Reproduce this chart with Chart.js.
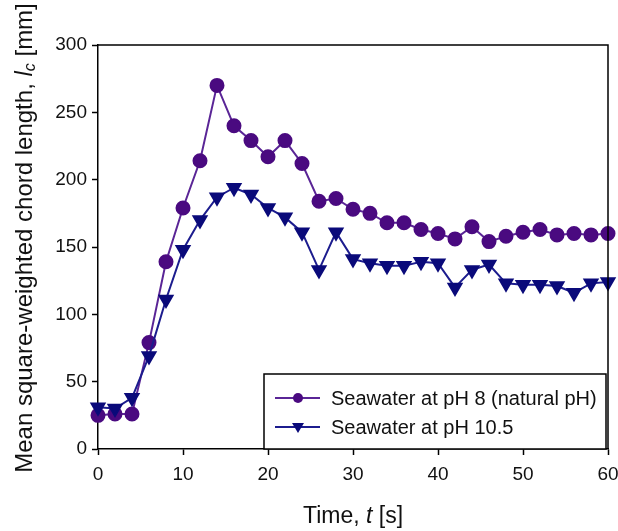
<!DOCTYPE html>
<html>
<head>
<meta charset="utf-8">
<script src="https://cdn.jsdelivr.net/npm/chart.js@4"></script>
<style>
  html, body { margin: 0; padding: 0; background: #fff; }
  #wrap { width: 618px; height: 531px; position: relative; }
</style>
</head>
<body>
<div id="wrap"><canvas id="lineChart" width="618" height="531"></canvas></div>
<script>
// time axis [s]
const times = [0, 2, 4, 6, 8, 10, 12, 14, 16, 18, 20, 22, 24, 26, 28, 30, 32, 34, 36, 38, 40, 42, 44, 46, 48, 50, 52, 54, 56, 58, 60];
// mean square-weighted chord length [mm]
const ph8 = [25, 26, 26, 79, 139, 179, 214, 270, 240, 229, 217, 229, 212, 184, 186, 178, 175, 168, 168, 163, 160, 156, 165, 154, 158, 161, 163, 159, 160, 159, 160];
const ph105 = [31, 30, 38, 69, 111, 148, 170, 187, 194, 189, 179, 172, 161, 133, 161, 141, 138, 136, 136, 139, 138, 120, 133, 137, 123, 122, 122, 121, 116, 123, 124];
const seriesLabels = ["Seawater at pH 8 (natural pH)", "Seawater at pH 10.5"];
const xTicks = [0, 10, 20, 30, 40, 50, 60];
const yTicks = [0, 50, 100, 150, 200, 250, 300];

const purple = "#4a0a80";
const purpleLine = "#5a2596";
const navy = "#0a0a7a";
const navyLine = "#1c1c8e";
const FONT = "'Liberation Sans', Arial, sans-serif";

const toXY = (vals) => vals.map((v, i) => ({ x: times[i], y: v }));

// frame, legend box and axis titles (titles need italic parts)
const extras = {
  id: "extras",
  afterDraw(chart) {
    const { ctx, chartArea: a } = chart;
    ctx.save();
    ctx.strokeStyle = "#000";
    ctx.lineWidth = 1.5;
    ctx.beginPath();
    ctx.moveTo(a.left, a.top);
    ctx.lineTo(a.right, a.top);
    ctx.lineTo(a.right, a.bottom);
    ctx.stroke();

    // legend
    const lx = 264, ly = 374, lw = 342, lh = 75;
    ctx.fillStyle = "#fff";
    ctx.fillRect(lx, ly, lw, lh);
    ctx.strokeRect(lx, ly, lw, lh);
    const rows = [398, 427];
    chart.data.datasets.forEach((ds, i) => {
      const y = rows[i];
      ctx.strokeStyle = ds.borderColor;
      ctx.lineWidth = 2;
      ctx.beginPath();
      ctx.moveTo(275, y);
      ctx.lineTo(320, y);
      ctx.stroke();
      ctx.fillStyle = ds.pointBackgroundColor;
      ctx.beginPath();
      if (i === 0) {
        ctx.arc(298, y, 5, 0, Math.PI * 2);
      } else {
        ctx.moveTo(292, y - 4);
        ctx.lineTo(304, y - 4);
        ctx.lineTo(298, y + 6);
        ctx.closePath();
      }
      ctx.fill();
      ctx.fillStyle = "#111";
      ctx.font = "20px " + FONT;
      ctx.textBaseline = "middle";
      ctx.textAlign = "left";
      ctx.fillText(ds.label, 331, y + 1);
    });

    // x title
    ctx.fillStyle = "#111";
    ctx.textBaseline = "middle";
    const xParts = [["Time, ", "23px " + FONT], ["t", "italic 23px " + FONT], [" [s]", "23px " + FONT]];
    let tw = 0;
    xParts.forEach(p => { ctx.font = p[1]; tw += ctx.measureText(p[0]).width; });
    let cx = (a.left + a.right) / 2 - tw / 2;
    xParts.forEach(p => { ctx.font = p[1]; ctx.fillText(p[0], cx, 517); cx += ctx.measureText(p[0]).width; });

    // y title
    ctx.translate(25, 238);
    ctx.rotate(-Math.PI / 2);
    const yParts = [
      ["Mean square-weighted chord length, ", "24px " + FONT, 0],
      ["l", "italic 24px " + FONT, 0],
      ["c", "italic 16px " + FONT, 6],
      [" [mm]", "24px " + FONT, 0]
    ];
    tw = 0;
    yParts.forEach(p => { ctx.font = p[1]; tw += ctx.measureText(p[0]).width; });
    cx = -tw / 2;
    yParts.forEach(p => { ctx.font = p[1]; ctx.fillText(p[0], cx, p[2]); cx += ctx.measureText(p[0]).width; });
    ctx.restore();
  }
};

const data = {
  datasets: [
    {
      label: seriesLabels[0],
      data: toXY(ph8),
      borderColor: purpleLine,
      backgroundColor: purple,
      pointBackgroundColor: purple,
      pointBorderColor: purple,
      pointStyle: "circle",
      pointRadius: 6.5,
      borderWidth: 2,
      order: 2,
      clip: 12
    },
    {
      label: seriesLabels[1],
      data: toXY(ph105),
      borderColor: navyLine,
      backgroundColor: navy,
      pointBackgroundColor: navy,
      pointBorderColor: navy,
      pointStyle: "triangle",
      rotation: 180,
      pointRadius: 7.5,
      borderWidth: 2,
      order: 1,
      clip: 12
    }
  ]
};

const options = {
  responsive: false,
  animation: false,
  layout: { padding: { top: 45, right: 10, left: 0, bottom: 0 } },
  scales: {
    x: {
      type: "linear",
      min: 0,
      max: 60,
      afterBuildTicks: (s) => { s.ticks = xTicks.map(v => ({ value: v })); },
      afterFit: (s) => { s.height = 82; s.paddingLeft = 0; s.paddingRight = 0; },
      grid: { drawOnChartArea: false, tickLength: 6, tickColor: "#000", tickWidth: 1.5 },
      border: { display: true, color: "#000", width: 1.5 },
      ticks: { color: "#111", font: { family: FONT, size: 19 }, padding: 8, maxRotation: 0 }
    },
    y: {
      min: 0,
      max: 300,
      afterBuildTicks: (s) => { s.ticks = yTicks.map(v => ({ value: v })); },
      afterFit: (s) => { s.width = 98; s.paddingTop = 0; s.paddingBottom = 0; },
      grid: { drawOnChartArea: false, tickLength: 6, tickColor: "#000", tickWidth: 1.5 },
      border: { display: true, color: "#000", width: 1.5 },
      ticks: { color: "#111", font: { family: FONT, size: 19 }, padding: 5 }
    }
  },
  plugins: {
    legend: { display: false },
    title: { display: false },
    tooltip: { enabled: false }
  }
};

new Chart(document.getElementById("lineChart"), {
  type: "line",
  data: data,
  options: options,
  plugins: [extras]
});
</script>
</body>
</html>
